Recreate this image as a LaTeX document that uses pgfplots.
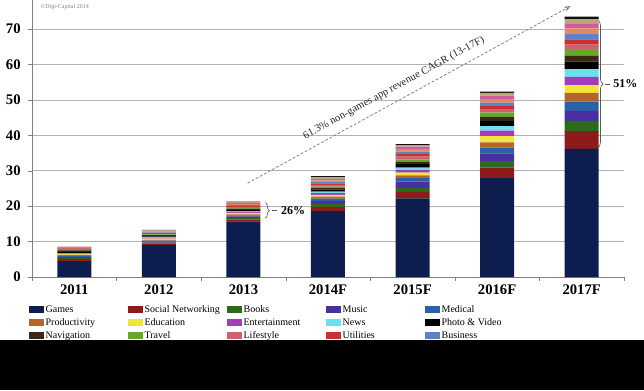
\documentclass[border=0pt]{standalone}
\usepackage{pgfplots}
\pgfplotsset{compat=1.18}
\usepackage{pgfplotstable}
\usepackage{fontspec}
\setmainfont{Liberation Serif}
\usetikzlibrary{arrows.meta,decorations.pathreplacing}

\definecolor{cGames}{HTML}{0D1E4E}
\definecolor{cSocial}{HTML}{8C1C1C}
\definecolor{cBooks}{HTML}{2C6A1C}
\definecolor{cMusic}{HTML}{4A2FA0}
\definecolor{cMedical}{HTML}{2A62A8}
\definecolor{cProd}{HTML}{B5652C}
\definecolor{cEdu}{HTML}{F2E43A}
\definecolor{cEnt}{HTML}{A53BB8}
\definecolor{cNews}{HTML}{6CE0EC}
\definecolor{cPhoto}{HTML}{000000}
\definecolor{cNav}{HTML}{3A2A14}
\definecolor{cTravel}{HTML}{64A82C}
\definecolor{cLife}{HTML}{D06070}
\definecolor{cUtil}{HTML}{C83232}
\definecolor{cBus}{HTML}{6080C8}
\definecolor{cSA}{HTML}{E08A60}
\definecolor{cSB}{HTML}{D05C9C}
\definecolor{cSC}{HTML}{B8A878}
\definecolor{cSD}{HTML}{101010}

\pgfplotstableread{
x games social books music medical prod edu ent news photo nav travel life util bus sA sB sC sD
0 4.5 0.6 0.2 0.3 0.3 0.3 0.2 0.2 0.1 0.4 0.4 0.1 0.3 0.2 0.1 0.2 0.1 0.1 0.0
1 9.0 0.5 0.2 0.3 0.3 0.2 0.3 0.2 0.2 0.3 0.3 0.2 0.2 0.2 0.2 0.3 0.2 0.1 0.1
2 15.7 0.6 0.3 0.5 0.3 0.3 0.4 0.2 0.2 0.4 0.4 0.2 0.3 0.3 0.2 0.3 0.3 0.2 0.2
3 18.6 1.2 0.8 0.9 0.6 0.6 0.5 0.5 0.4 0.6 0.4 0.4 0.5 0.4 0.4 0.5 0.4 0.4 0.4
4 22.2 1.8 1.1 1.8 1.0 0.8 0.8 0.7 0.7 1.0 0.7 0.6 0.8 0.7 0.7 0.7 0.7 0.4 0.3
5 27.9 3.0 1.8 2.2 1.6 1.5 1.8 1.5 1.3 1.5 1.1 1.3 0.9 0.9 0.9 1.0 1.0 0.8 0.3
6 36.2 5.0 2.9 2.8 2.6 2.5 2.2 2.3 2.2 2.1 1.6 1.7 1.5 1.5 1.5 1.6 1.4 1.1 0.8
}\datatable

\newcommand\LE[1]{\makebox[62pt][l]{\hspace{0.5pt}#1}}

\begin{document}
\begin{tikzpicture}
\useasboundingbox (0,0) rectangle (483pt,292.5pt);
\begin{axis}[
  at={(24pt,84.75pt)}, anchor=south west,
  width=444pt, height=207.75pt, scale only axis,
  ybar stacked, bar width=25.5pt,
  xmin=-0.5, xmax=6.5, ymin=0, ymax=78.2,
  axis x line=bottom, axis y line=left,
  axis line style={gray, -},
  clip=false,
  ytick={0,10,...,70},
  ymajorgrids, grid style={gray!60, line width=0.5pt},
  xtick={-0.5,0.5,...,6.5},
  xticklabels={,,,,,,,},
  extra x ticks={0,1,2,3,4,5,6},
  extra x tick labels={2011,2012,2013,2014F,2015F,2016F,2017F},
  extra x tick style={major tick length=0pt, grid=none},
  tick align=outside, major tick length=3pt,
  tick style={gray},
  /pgf/number format/assume math mode=true,
  yticklabel style={font=\fontsize{11}{11}\selectfont\bfseries, xshift=-2pt},
  xticklabel style={font=\fontsize{11}{11}\selectfont\bfseries, yshift=-2pt},
  legend columns=5,
  legend style={draw=none, fill=none, at={(-0.005,-0.095)}, anchor=north west,
    font=\fontsize{7.5}{8}\selectfont, inner sep=0pt, row sep=1.4pt,
    nodes={inner sep=0.5pt, text height=6pt, text depth=1.5pt},
    /tikz/every even column/.append style={column sep=0pt}},
  legend image code/.code={\fill[#1] (0pt,-2.6pt) rectangle (11.25pt,2.6pt);},
]
\addplot[fill=cGames, draw=none] table[x=x,y=games]{\datatable};
\addplot[fill=cSocial, draw=none] table[x=x,y=social]{\datatable};
\addplot[fill=cBooks, draw=none] table[x=x,y=books]{\datatable};
\addplot[fill=cMusic, draw=none] table[x=x,y=music]{\datatable};
\addplot[fill=cMedical, draw=none] table[x=x,y=medical]{\datatable};
\addplot[fill=cProd, draw=none] table[x=x,y=prod]{\datatable};
\addplot[fill=cEdu, draw=none] table[x=x,y=edu]{\datatable};
\addplot[fill=cEnt, draw=none] table[x=x,y=ent]{\datatable};
\addplot[fill=cNews, draw=none] table[x=x,y=news]{\datatable};
\addplot[fill=cPhoto, draw=none] table[x=x,y=photo]{\datatable};
\addplot[fill=cNav, draw=none] table[x=x,y=nav]{\datatable};
\addplot[fill=cTravel, draw=none] table[x=x,y=travel]{\datatable};
\addplot[fill=cLife, draw=none] table[x=x,y=life]{\datatable};
\addplot[fill=cUtil, draw=none] table[x=x,y=util]{\datatable};
\addplot[fill=cBus, draw=none] table[x=x,y=bus]{\datatable};
\addplot[fill=cSA, draw=none] table[x=x,y=sA]{\datatable};
\addplot[fill=cSB, draw=none] table[x=x,y=sB]{\datatable};
\addplot[fill=cSC, draw=none] table[x=x,y=sC]{\datatable};
\addplot[fill=cSD, draw=none] table[x=x,y=sD]{\datatable};
\legend{\LE{Games},\LE{Social Networking},\LE{Books},\LE{Music},\LE{Medical},
  \LE{Productivity},\LE{Education},\LE{Entertainment},\LE{News},\LE{Photo \& Video},
  \LE{Navigation},\LE{Travel},\LE{Lifestyle},\LE{Utilities},\LE{Business}}

\node[white, font=\bfseries\fontsize{9}{9}\selectfont] at (axis cs:2,8.2) {74\%};
\node[white, font=\bfseries\fontsize{9}{9}\selectfont] at (axis cs:6,20.6) {49\%};

\draw[gray!70!black, line width=0.5pt, decorate, decoration={brace, amplitude=3pt}]
  (axis cs:2.26,21.0) -- (axis cs:2.26,16.6);
\draw[gray!70!black, line width=0.5pt] (axis cs:2.34,18.8) -- (axis cs:2.40,18.8);
\node[anchor=west, font=\bfseries\fontsize{9}{9}\selectfont] at (axis cs:2.39,18.8) {26\%};

\draw[gray!70!black, line width=0.5pt, decorate, decoration={brace, amplitude=4pt}]
  (axis cs:6.19,72.5) -- (axis cs:6.19,36.5);
\draw[gray!70!black, line width=0.5pt] (axis cs:6.27,54.5) -- (axis cs:6.33,54.5);
\node[anchor=west, font=\bfseries\fontsize{9}{9}\selectfont] at (axis cs:6.32,54.5) {51\%};

\draw[gray, line width=0.6pt, dash pattern=on 2pt off 1.5pt, -{Stealth[open, length=5pt, width=4pt]}]
  (axis cs:2.05,26.5) -- (axis cs:5.87,76.5);
\node[rotate=28.6, font=\fontsize{8}{8}\selectfont, text=black!85] at (axis cs:3.78,53.3)
  {61.3\% non-games app revenue CAGR (13-17F)};
\end{axis}
\node[anchor=north west, font=\fontsize{4.5}{5}\selectfont, text=gray] at (27pt,292.5pt) {\textcopyright Digi-Capital 2014};
\fill[black] (0pt,0pt) rectangle (483pt,37.5pt);
\end{tikzpicture}
\end{document}
